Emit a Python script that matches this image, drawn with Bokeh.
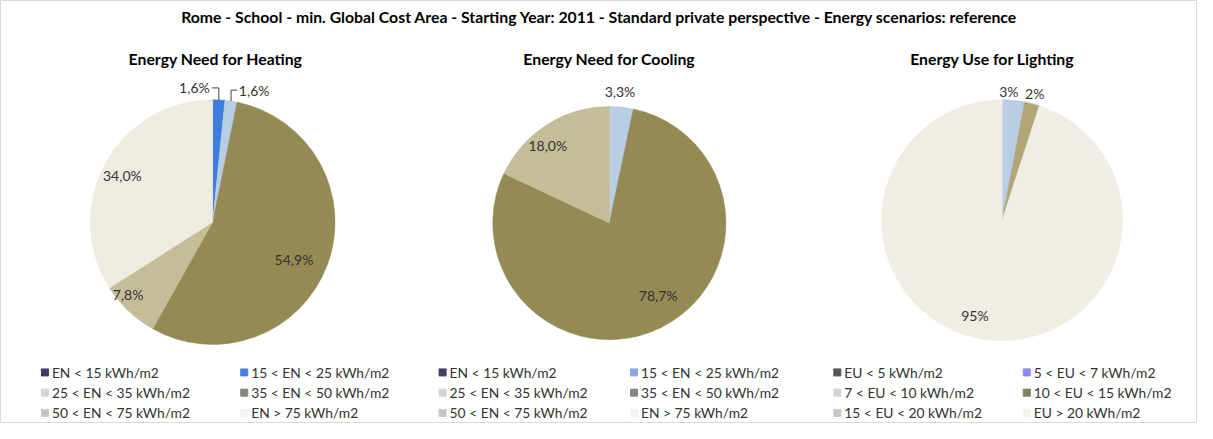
import numpy as np
from bokeh.plotting import figure
from bokeh.models import Range1d
from bokeh.core.properties import value
from bokeh.embed import file_html
from bokeh.resources import INLINE

# ---------------- data ----------------
main_title = ("Rome - School - min. Global Cost Area - Starting Year: 2011 - "
              "Standard private perspective - Energy scenarios: reference")

heating_title = "Energy Need for Heating"
heating_values = [1.6, 1.6, 54.9, 7.8, 34.0]
heating_labels = ["1,6%", "1,6%", "54,9%", "7,8%", "34,0%"]

cooling_title = "Energy Need for Cooling"
cooling_values = [3.3, 78.7, 18.0]
cooling_labels = ["3,3%", "78,7%", "18,0%"]

lighting_title = "Energy Use for Lighting"
lighting_values = [3, 2, 95]
lighting_labels = ["3%", "2%", "95%"]

legend_en = ["EN < 15 kWh/m2", "15 < EN < 25 kWh/m2",
             "25 < EN < 35 kWh/m2", "35 < EN < 50 kWh/m2",
             "50 < EN < 75 kWh/m2", "EN > 75 kWh/m2"]
legend_eu = ["EU < 5 kWh/m2", "5 < EU < 7 kWh/m2",
             "7 < EU < 10 kWh/m2", "10 < EU < 15 kWh/m2",
             "15 < EU < 20 kWh/m2", "EU > 20 kWh/m2"]

# ---------------- styles / layout ----------------
heating_colors = ["#3d7ddb", "#b9cde5", "#948a54", "#c4bd97", "#eeece1"]
cooling_colors = ["#b9cde5", "#948a54", "#c4bd97"]
lighting_colors = ["#b9cde5", "#b3a676", "#efede4"]

legend_heat_colors = ["#3f3b68", "#4a7fd8", "#d4d4d4", "#85857a", "#c6c6c6", "#f2f2f2"]
legend_cool_colors = ["#3f3b68", "#8fa6dc", "#d4d4d4", "#858585", "#c6c6c6", "#f2f2f2"]
legend_light_colors = ["#555555", "#8a8ae6", "#d4d4d4", "#7d8260", "#c6c6c6", "#f2f2f2"]

W, H = 1197, 423
REF_W, REF_H = 1213, 439
SX, SY = W / REF_W, H / REF_H

FONT = "Lato"


def PX(x):
    return x * SX


def PY(y):
    return H - y * SY


p = figure(width=W, height=H, output_backend="svg", toolbar_location=None,
           x_range=Range1d(0, W), y_range=Range1d(0, H),
           min_border=0, min_border_left=0, min_border_right=0,
           min_border_top=0, min_border_bottom=0)
p.axis.visible = False
p.grid.visible = False
p.outline_line_color = "#d9d9d9"
p.background_fill_color = "white"

LABEL_SIZE = "14px"


def label(x, y, s, align="center"):
    p.text(x=[x], y=[y], text=[s], text_font=value(FONT),
           text_font_size=LABEL_SIZE, text_color="#333333",
           text_align=align, text_baseline="middle")


def draw_pie(rx, ry, rr, values, colors, labels, label_frac, label_nudge, leaders):
    cx, cy, r = PX(rx), PY(ry), rr * SY
    vals = np.array(values, dtype=float)
    frac = vals / vals.sum()
    cum = np.concatenate([[0], np.cumsum(frac)])
    starts = np.pi / 2 - 2 * np.pi * cum[:-1]
    ends = np.pi / 2 - 2 * np.pi * cum[1:]
    p.wedge(x=[cx] * len(vals), y=[cy] * len(vals), radius=r,
            start_angle=list(starts), end_angle=list(ends), direction="clock",
            fill_color=colors, line_color=colors, line_width=0.5)
    mids = np.pi / 2 - 2 * np.pi * (cum[:-1] + cum[1:]) / 2
    for i, lab in enumerate(labels):
        if i in leaders:
            dx, dy = leaders[i]
            ex = cx + r * np.cos(mids[i])
            ey = cy + r * np.sin(mids[i])
            ly = ey + dy
            p.line(x=[ex, ex], y=[ey, ly], line_color="#404040", line_width=1)
            p.line(x=[ex, ex + dx], y=[ly, ly], line_color="#404040", line_width=1)
            label(ex + dx * 1.3, ly, lab, "right" if dx < 0 else "left")
        else:
            a = mids[i] - np.radians(label_nudge[i])
            lx = cx + r * label_frac[i] * np.cos(a)
            ly = cy + r * label_frac[i] * np.sin(a)
            label(lx, ly, lab)


def draw_legend(x1, x2, rows, names, colors):
    xs = [PX(x1), PX(x2)] * 3
    ys = [PY(rows[k // 2]) for k in range(6)]
    p.scatter(x=xs, y=ys, marker="square", size=7, fill_color=colors,
              line_color=colors)
    p.text(x=[x + 7 for x in xs], y=ys, text=names, text_font=value(FONT),
           text_font_size="13.8px", text_color="#333333",
           text_align="left", text_baseline="middle")


# main title
p.text(x=[PX(607)], y=[PY(17)], text=[main_title], text_font=value(FONT),
       text_font_style="bold", text_font_size="15.8px", text_color="#000000",
       text_align="center", text_baseline="middle")

# sub titles
for tx, t in [(218, heating_title), (617, cooling_title), (1005, lighting_title)]:
    p.text(x=[PX(tx)], y=[PY(60)], text=[t], text_font=value(FONT),
           text_font_style="bold", text_font_size="15.8px", text_color="#000000",
           text_align="center", text_baseline="middle")

# label_nudge: clockwise shift (degrees) of a label from its slice's mid-angle
draw_pie(215, 230, 127, heating_values, heating_colors, heating_labels,
         [1.0, 1.0, 0.73, 0.91, 0.83], [0, 0, 4, 6, -1.5],
         {0: (-7, 12), 1: (6, 11)})
draw_pie(617, 231, 121, cooling_values, cooling_colors, cooling_labels,
         [1.13, 0.75, 0.85], [-1.3, -7.5, -6], {})
draw_pie(1015, 228, 125, lighting_values, lighting_colors, lighting_labels,
         [1.07, 1.09, 0.82], [-2.4, 0, 7], {})

rows = [386, 407, 428]
draw_legend(45, 247, rows, legend_en, legend_heat_colors)
draw_legend(448, 642, rows, legend_en, legend_cool_colors)
draw_legend(848, 1040, rows, legend_eu, legend_light_colors)

open("out.html", "w").write(file_html(p, INLINE))
